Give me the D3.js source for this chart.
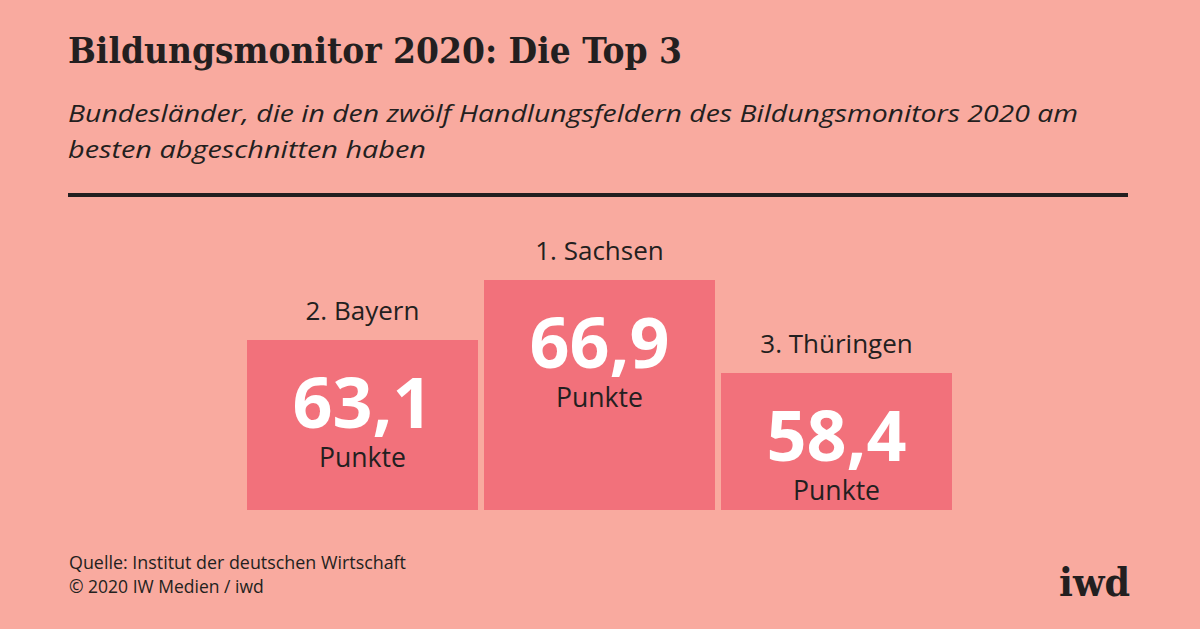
<!DOCTYPE html>
<html>
<head>
<meta charset="utf-8">
<script src="https://cdn.jsdelivr.net/npm/d3@7"></script>
<style>
  html, body { margin: 0; padding: 0; background: #F9AA9F; }
  svg { display: block; }
</style>
</head>
<body>
<script>
// ---- data ----
const states = ["Bayern", "Sachsen", "Thüringen"];
const ranks = [2, 1, 3];
const points = [63.1, 66.9, 58.4];
const unitLabel = "Punkte";
const podiumRanks = [1, 2, 3];

const titleText = "Bildungsmonitor 2020: Die Top 3";
const subtitleLines = [
  "Bundesländer, die in den zwölf Handlungsfeldern des Bildungsmonitors 2020 am",
  "besten abgeschnitten haben"
];
const sourceLines = [
  "Quelle: Institut der deutschen Wirtschaft",
  "© 2020 IW Medien / iwd"
];
const logoText = "iwd";

// ---- style ----
const W = 1200, H = 629;
const BG = "#F9AA9F", BAR = "#F2717B", INK = "#231F20";
const SANS = "'Open Sans', 'Noto Sans', sans-serif";
const SERIF = "'DejaVu Serif Condensed', 'DejaVu Serif', serif";

const svg = d3.select("body").append("svg")
  .attr("width", W).attr("height", H);
svg.append("rect").attr("width", W).attr("height", H).attr("fill", BG);

function fitWidth(sel, target) {
  sel.each(function() {
    const w = this.getComputedTextLength();
    if (w > 0 && Math.abs(w - target) > 1) {
      d3.select(this).attr("textLength", target).attr("lengthAdjust", "spacingAndGlyphs");
    }
  });
}

// Title
svg.append("text")
  .attr("x", 68).attr("y", 63)
  .attr("font-family", SERIF).attr("font-weight", "bold")
  .attr("font-size", 35).attr("fill", INK)
  .text(titleText)
  .call(fitWidth, 614);

// Subtitle
const subWidths = [1010, 358];
svg.selectAll("text.sub").data(subtitleLines).join("text")
  .attr("class", "sub")
  .attr("x", 68).attr("y", (d, i) => 122 + i * 36)
  .attr("font-family", SANS).attr("font-style", "italic")
  .attr("font-size", 24).attr("fill", INK)
  .text(d => d)
  .each(function(d, i) { fitWidth(d3.select(this), subWidths[i]); });

// Divider
svg.append("rect")
  .attr("x", 68).attr("y", 193).attr("width", 1060).attr("height", 4)
  .attr("fill", INK);

// ---- podium ----
const x = d3.scaleBand().domain(states).range([247, 952]).paddingInner(0.026).paddingOuter(0);
const podiumTop = d3.scaleOrdinal().domain(podiumRanks).range([280, 340, 373]);
const baseY = 510;

const rows = states.map((s, i) => ({ state: s, rank: ranks[i], value: points[i] }));
const fmt = v => d3.format(".1f")(v).replace(".", ",");

const g = svg.append("g");
const cells = g.selectAll("g.cell").data(rows).join("g").attr("class", "cell");

cells.append("rect")
  .attr("x", d => Math.round(x(d.state)))
  .attr("y", d => podiumTop(d.rank))
  .attr("width", x.bandwidth())
  .attr("height", d => baseY - podiumTop(d.rank))
  .attr("fill", BAR)
  .attr("shape-rendering", "crispEdges");

cells.append("text")
  .attr("x", d => x(d.state) + x.bandwidth() / 2)
  .attr("y", d => podiumTop(d.rank) - 20)
  .attr("text-anchor", "middle")
  .attr("font-family", SANS).attr("font-size", 26).attr("fill", INK)
  .text(d => `${d.rank}. ${d.state}`);

cells.append("text")
  .attr("x", d => x(d.state) + x.bandwidth() / 2)
  .attr("y", d => podiumTop(d.rank) + 88)
  .attr("text-anchor", "middle")
  .attr("font-family", SANS).attr("font-weight", "bold")
  .attr("font-size", 70).attr("fill", "#FFFFFF")
  .text(d => fmt(d.value));

cells.append("text")
  .attr("x", d => x(d.state) + x.bandwidth() / 2)
  .attr("y", d => podiumTop(d.rank) + 127)
  .attr("text-anchor", "middle")
  .attr("font-family", SANS).attr("font-size", 27).attr("fill", INK)
  .text(unitLabel)
  .call(fitWidth, 87);

// Footer
const srcWidths = [337, 194];
svg.selectAll("text.src").data(sourceLines).join("text")
  .attr("class", "src")
  .attr("x", 69).attr("y", (d, i) => 569 + i * 24)
  .attr("font-family", SANS).attr("font-size", 17.5).attr("fill", INK)
  .text(d => d)
  .each(function(d, i) { fitWidth(d3.select(this), srcWidths[i]); });

// Logo
svg.append("text")
  .attr("x", 1059).attr("y", 596)
  .attr("font-family", "'DejaVu Serif', serif").attr("font-weight", "bold")
  .attr("font-size", 40).attr("fill", INK)
  .text(logoText)
  .call(fitWidth, 71);
</script>
</body>
</html>
